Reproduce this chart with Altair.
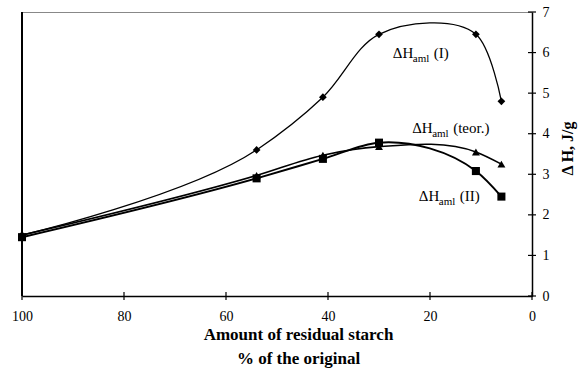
import altair as alt
import pandas as pd

# --- data ---
x_vals = [100, 54, 41, 30, 11, 6]
dh_I = [1.5, 3.6, 4.9, 6.45, 6.45, 4.8]
dh_teor = [1.5, 2.97, 3.47, 3.68, 3.55, 3.25]
dh_II = [1.45, 2.9, 3.38, 3.78, 3.08, 2.45]
series_names = ["I", "teor", "II"]
x_ticks = [100, 80, 60, 40, 20, 0]
y_ticks = [0, 1, 2, 3, 4, 5, 6, 7]

label_series = ["I", "teor", "II"]
label_x = [27.3, 23.5, 22.2]
label_y = [5.86, 4.01, 2.34]
label_rest = ["(I)", "(teor.)", "(II)"]

rows = []
for name, vals in zip(series_names, [dh_I, dh_teor, dh_II]):
    for x, y in zip(x_vals, vals):
        rows.append({"series": name, "x": x, "y": y})
df = pd.DataFrame(rows)

lab = pd.DataFrame({"series": label_series, "x": label_x, "y": label_y,
                    "head": ["ΔH"] * 3, "sub": ["aml"] * 3, "rest": label_rest})
xt = pd.DataFrame({"x": x_ticks})
yt = pd.DataFrame({"y": y_ticks})

W, H = 510, 284
SERIF = "Liberation Serif"

xs = alt.Scale(domain=[0, 100], reverse=True, nice=False, zero=False)
ys = alt.Scale(domain=[0, 7], nice=False)

xaxis = alt.Axis(values=x_ticks, labelFont=SERIF, labelFontSize=14, labelColor="black",
                 ticks=False, domainColor="black", domainWidth=1.5, labelPadding=13,
                 grid=False, labelFlush=False,
                 title=["Amount of residual starch", "% of the original"],
                 titleFont=SERIF, titleFontSize=17, titleFontWeight="bold", titleColor="black",
                 titleX=276, titleY=43, titleBaseline="alphabetic", titleLineHeight=24,
                 titleAlign="center")
yaxis = alt.Axis(orient="right", values=y_ticks, labelFont=SERIF, labelFontSize=14,
                 labelColor="black", ticks=False, domainColor="black", domainWidth=1.5,
                 labelPadding=10, grid=False, labelFlush=False,
                 title="Δ H, J/g", titleFont=SERIF, titleFontSize=16, titleFontWeight="bold",
                 titleColor="black", titleAngle=270, titleX=35, titleY=136,
                 titleAlign="center", titleBaseline="middle")

X = alt.X("x:Q", scale=xs, axis=xaxis)
Y = alt.Y("y:Q", scale=ys, axis=yaxis)

base = alt.Chart(df)
lines = base.mark_line(interpolate="catmull-rom", tension=1, color="black").encode(
    x=X, y=Y,
    detail="series:N",
    strokeWidth=alt.StrokeWidth("series:N", scale=alt.Scale(domain=series_names, range=[1.3, 2, 2]), legend=None),
)
points = base.mark_point(filled=True, color="black", opacity=1).encode(
    x=X, y=Y,
    shape=alt.Shape("series:N", scale=alt.Scale(domain=series_names, range=["diamond", "triangle-up", "square"]), legend=None),
    size=alt.Size("series:N", scale=alt.Scale(domain=series_names, range=[60, 65, 58]), legend=None),
)

xtick_rules = alt.Chart(xt).mark_rule(color="black", strokeWidth=1.2).encode(
    x=X, y=alt.value(H - 4), y2=alt.value(H + 4))
ytick_rules = alt.Chart(yt).mark_rule(color="black", strokeWidth=1.2).encode(
    y=Y, x=alt.value(W - 4), x2=alt.value(W + 4))
left_border = alt.Chart(xt).mark_rule(color="black", strokeWidth=1.5).encode(
    x=alt.value(0), y=alt.value(0), y2=alt.value(H))

tbase = alt.Chart(lab)
t_head = tbase.mark_text(font=SERIF, fontSize=15, align="left", baseline="alphabetic", color="black").encode(
    x=X, y=Y, text="head:N")
t_sub = tbase.mark_text(font=SERIF, fontSize=11, align="left", baseline="alphabetic", color="black", dx=20, dy=4).encode(
    x=X, y=Y, text="sub:N")
t_rest = tbase.mark_text(font=SERIF, fontSize=15, align="left", baseline="alphabetic", color="black", dx=41).encode(
    x=X, y=Y, text="rest:N")

chart = alt.layer(lines, points, xtick_rules, ytick_rules, left_border, t_head, t_sub, t_rest).properties(
    width=W, height=H,
    autosize=alt.AutoSizeParams(type="none"),
    padding={"left": 22, "top": 12, "right": 47, "bottom": 79},
    background="white",
).configure_view(stroke="#888888", strokeWidth=1)

chart.save("out.html", embed_options={"renderer": "svg", "actions": False})
